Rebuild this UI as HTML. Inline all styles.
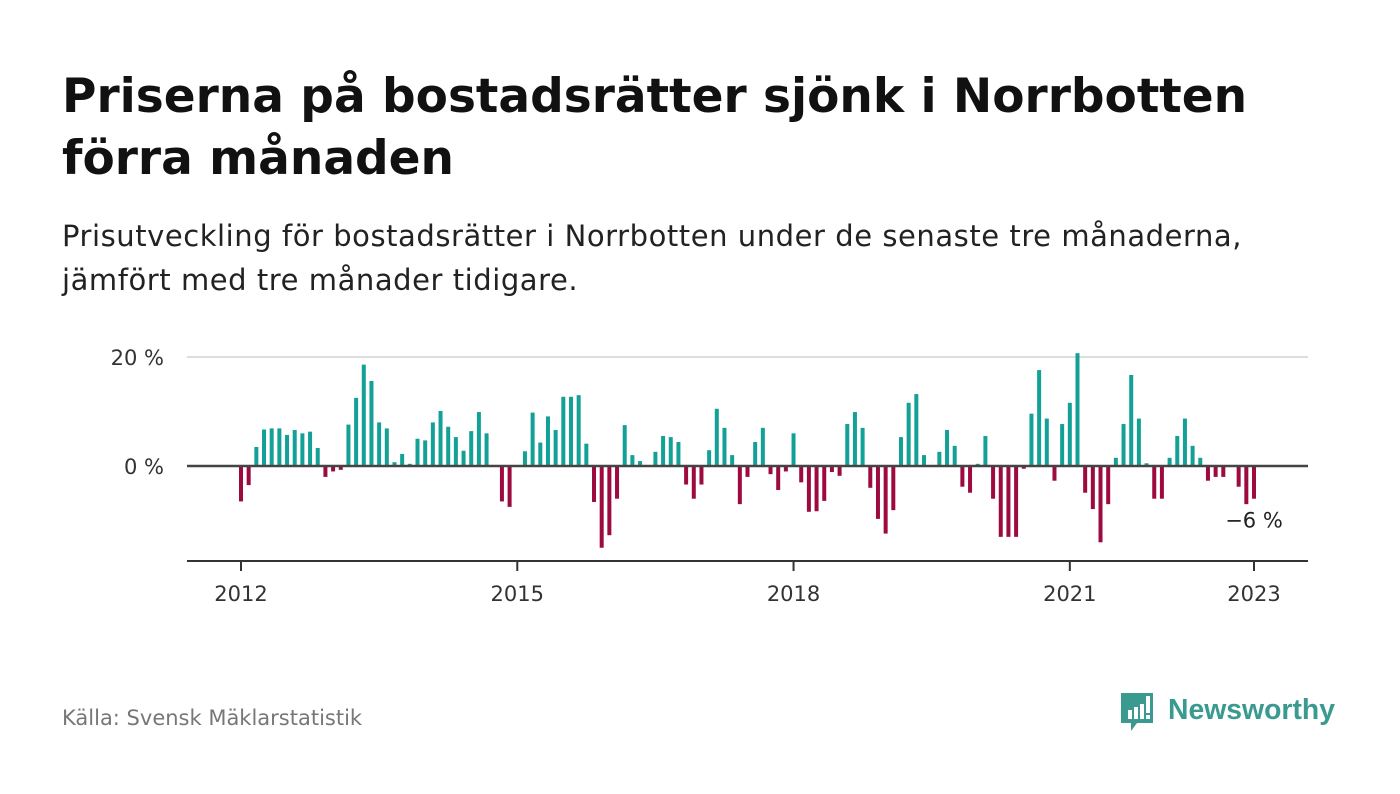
<!DOCTYPE html>
<html><head><meta charset="utf-8">
<style>
body{margin:0;width:1400px;height:794px;background:#fff;font-family:"DejaVu Sans","Liberation Sans",sans-serif;overflow:hidden;position:relative}
.t{position:absolute;left:62px;top:66px;font-size:47px;font-weight:bold;color:#111;line-height:62px;margin:0;white-space:nowrap}
.s{position:absolute;left:62px;top:214px;font-size:29px;color:#222;line-height:44px;margin:0;white-space:nowrap;letter-spacing:0.55px}
.src{position:absolute;left:62px;top:706px;font-size:21px;color:#777}
.logo{position:absolute;left:1119px;top:690px}
</style></head><body>
<h1 class="t">Priserna på bostadsrätter sjönk i Norrbotten<br>förra månaden</h1>
<p class="s">Prisutveckling för bostadsrätter i Norrbotten under de senaste tre månaderna,<br>jämfört med tre månader tidigare.</p>
<svg id="chart" width="1400" height="794" style="position:absolute;left:0;top:0"></svg>
<div class="src">Källa: Svensk Mäklarstatistik</div>
<div class="logo">
<svg width="230" height="46">
<path d="M2 3h32v30H18l-6 8v-8H2z" fill="#3a9a90"/>
<rect x="9" y="20" width="4" height="9" fill="#fff"/><rect x="15" y="17" width="4" height="12" fill="#fff"/><rect x="21" y="14" width="4" height="15" fill="#fff"/><rect x="27" y="6" width="4" height="17" fill="#fff"/><rect x="27" y="25" width="4" height="4" fill="#fff"/>
<text x="49" y="29" font-size="29" font-weight="bold" fill="#3a9a90" textLength="167" lengthAdjust="spacingAndGlyphs" font-family="Liberation Sans, sans-serif">Newsworthy</text>
</svg></div>
<script>
const values=[-6.5,-3.5,3.5,6.7,6.9,6.9,5.7,6.6,6,6.3,3.3,-2,-1,-0.7,7.6,12.5,18.6,15.6,8,6.9,0.7,2.2,0.4,5,4.7,8,10.1,7.2,5.3,2.8,6.4,9.9,6,0,-6.5,-7.5,0,2.7,9.8,4.3,9.1,6.6,12.7,12.7,13,4.1,-6.6,-15,-12.7,-6,7.5,2,0.9,0,2.6,5.5,5.3,4.4,-3.4,-6,-3.4,2.9,10.5,7,2,-7,-2,4.4,7,-1.5,-4.4,-1,6,-3,-8.4,-8.3,-6.4,-1.1,-1.8,7.7,9.9,7,-4,-9.7,-12.4,-8.1,5.3,11.6,13.2,2,0,2.6,6.6,3.7,-3.8,-4.9,0.4,5.5,-6,-13,-13,-13,-0.5,9.6,17.6,8.7,-2.7,7.7,11.6,20.7,-4.9,-7.9,-14,-7,1.5,7.7,16.7,8.7,0.5,-6,-6,1.5,5.5,8.7,3.7,1.5,-2.7,-2,-2,0,-3.8,-7,-6];
const startYear=2012;
const xTicks=[2012,2015,2018,2021,2023];
const yTicks=[0,20];
const NS="http://www.w3.org/2000/svg";
const svg=document.getElementById('chart');
const x0=241, pxMonth=(1254-241)/132;
const xs=m=>x0+m*pxMonth;
const ys=v=>466-v*5.45;
function mk(t,a){const e=document.createElementNS(NS,t);for(const k in a)e.setAttribute(k,a[k]);svg.appendChild(e);return e;}
yTicks.forEach(v=>{
  if(v!==0){const g=mk('line',{x1:187,x2:1308,y1:ys(v),y2:ys(v),stroke:'#ddd','stroke-width':2});
  
  }
  const t=mk('text',{x:164,y:ys(v)+8,'text-anchor':'end','font-size':21,fill:'#333'});
  t.textContent=v+' %';
  
  
});
values.forEach((v,i)=>{
  const y=Math.min(ys(v),ys(0)),h=Math.abs(ys(v)-ys(0));
  const r=mk('rect',{x:xs(i)-2,y:y,width:4,height:h,fill:v>=0?'#13a197':'#9c0a3f'});
  
  
});
const z=mk('line',{x1:187,x2:1308,y1:ys(0),y2:ys(0),stroke:'#444','stroke-width':2.5});


const ax=mk('line',{x1:187,x2:1308,y1:561,y2:561,stroke:'#333','stroke-width':2});


xTicks.forEach(yr=>{
  const x=xs((yr-startYear)*12);
  const tk=mk('line',{x1:x,x2:x,y1:561,y2:571,stroke:'#333','stroke-width':2});
  
  
  const t=mk('text',{x:x,y:601,'text-anchor':'middle','font-size':21,fill:'#333'});
  t.textContent=yr;
  
  
});
const last=values[values.length-1];
const lb=mk('text',{x:xs(values.length-1),y:ys(last)+29,'text-anchor':'middle','font-size':21,fill:'#222'});
lb.textContent='−'+Math.abs(Math.round(last))+' %';


</script>
</body></html>
